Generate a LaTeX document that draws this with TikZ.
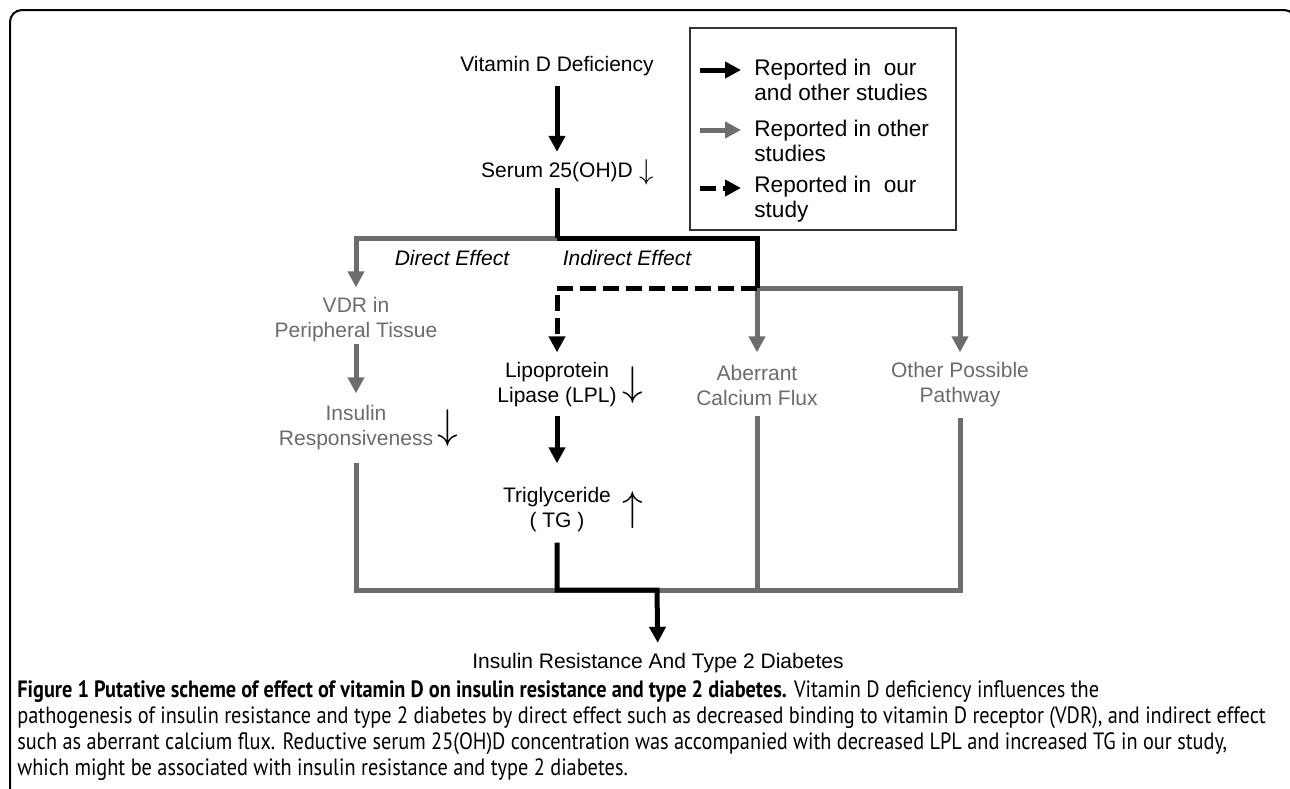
\documentclass[tikz,border=0pt]{standalone}
\usepackage{fontspec}
\setmainfont{Liberation Sans}
\newfontfamily\capfont[FakeStretch=0.86]{PT Sans}
\usetikzlibrary{arrows.meta,positioning,calc}
\definecolor{pathgray}{HTML}{6D6D6D}
\definecolor{textgray}{HTML}{6B6B6B}
\newcommand{\smalldown}{{\fontsize{14.4}{14.4}\selectfont$\downarrow$}}
\newcommand{\bigdown}{{\fontsize{20.74}{20.74}\selectfont$\downarrow$}}
\newcommand{\bigup}{{\fontsize{20.74}{20.74}\selectfont$\uparrow$}}

\begin{document}
\begin{tikzpicture}[
  x=0.5pt, y=-0.5pt,
  lbl/.style={font=\fontsize{10.5}{12.5}\selectfont, align=center, inner xsep=2pt, inner ysep=5pt},
  graylbl/.style={lbl, text=textgray},
  effect/.style={lbl, font=\fontsize{10.5}{12.5}\selectfont\itshape},
  legendtxt/.style={font=\fontsize{11.3}{12.5}\selectfont, align=left, anchor=west, inner sep=0pt},
  legendbox/.style={draw=black!80, line width=0.7pt, minimum width=133pt, minimum height=101pt},
  updown/.style={text=black, inner sep=0pt},
  blackline/.style={draw=black, line width=2.5pt},
  grayline/.style={draw=pathgray, line width=2.5pt},
  blackarrow/.style={blackline, -{Triangle[length=8pt,width=8pt]}},
  grayarrow/.style={grayline, -{Triangle[length=8pt,width=8pt]}},
  dasharrow/.style={blackarrow, dash pattern=on 8pt off 3.5pt},
]
\useasboundingbox (0,0) rectangle (1290,788);

% outer frame
\draw[line width=1pt, rounded corners=6pt] (10,800) |- (1296,10) -- (1296,800);

% legend
\node[legendbox] (legend) at (823,129) {};
\node[legendtxt] (legone) at (754,79.5) {Reported in\ \ our\\and other studies};
\node[legendtxt] (legtwo) at (754,140.5) {Reported in other\\studies};
\node[legendtxt] (legthree) at (754,199.5) {Reported in\ \ our\\study};
\coordinate (keyonea) at (700,70);  \coordinate (keyoneb) at (741,70);
\coordinate (keytwoa) at (700,130); \coordinate (keytwob) at (741,130);
\coordinate (keythra) at (700,188); \coordinate (keythrb) at (741,188);
\draw[blackarrow] (keyonea) -- (keyoneb);
\draw[grayarrow] (keytwoa) -- (keytwob);
\draw[dasharrow] (keythra) -- (keythrb);

% nodes
\node[lbl] (vdd) at (557,66) {Vitamin D Deficiency};
\node[lbl, label={[updown, label distance=1pt]right:\smalldown}] (serum) at (557,172) {Serum 25(OH)D};
\node[effect] (direct) at (452,258) {Direct Effect};
\node[effect] (indirect) at (627,258) {Indirect Effect};
\node[graylbl] (vdr) at (356,320) {VDR in\\Peripheral Tissue};
\node[graylbl, label={[updown, label distance=0pt]right:\bigdown}] (insresp) at (356,428) {Insulin\\Responsiveness};
\node[lbl, label={[updown, label distance=0.5pt]right:\bigdown}] (lpl) at (557,385) {Lipoprotein\\Lipase (LPL)};
\node[lbl, label={[updown, label distance=3.5pt]right:\bigup}] (tg) at (557,510) {Triglyceride\\( TG )};
\node[graylbl] (calcium) at (757,385) {Aberrant\\Calcium Flux};
\node[graylbl] (other) at (960,385) {Other Possible\\Pathway};
\node[lbl] (outcome) at (658,663) {Insulin Resistance And Type 2 Diabetes};

\coordinate (split) at (557,238);
\coordinate (fork) at (757,288);
\coordinate (join) at (657,590);

% connectors
\draw[blackarrow] (vdd) -- (serum);
\draw[grayarrow] (split) -| (vdr);
\draw[grayarrow, shorten <=-4.5pt, shorten >=1pt] (vdr) -- (insresp);
\draw[grayarrow] (fork) -| (other);
\draw[grayarrow, shorten >=1pt] (fork) -- (calcium);
\draw[blackline, shorten <=-2pt] (serum) -- (split);
\draw[blackline] (split) -| (fork);
\draw[dasharrow] (fork) -| (lpl);
\draw[blackarrow, shorten <=-1pt, shorten >=7pt] (lpl) -- (tg);
\draw[grayline, shorten <=1pt] (insresp) -- (insresp |- join) -- (other |- join) -- (other);
\draw[grayline] (calcium) -- (calcium |- join);
\draw[blackarrow] (tg) |- (join) -- (outcome);

% caption
\node[anchor=north west, inner sep=0pt, align=left, font=\capfont\fontsize{11.8}{13}\selectfont] (caption) at (17,680) {%
\textbf{Figure 1 Putative scheme of effect of vitamin D on insulin resistance and type 2 diabetes.} Vitamin D deficiency influences the\\
pathogenesis of insulin resistance and type 2 diabetes by direct effect such as decreased binding to vitamin D receptor (VDR), and indirect effect\\
such as aberrant calcium flux. Reductive serum 25(OH)D concentration was accompanied with decreased LPL and increased TG in our study,\\
which might be associated with insulin resistance and type 2 diabetes.};

\end{tikzpicture}
\end{document}
